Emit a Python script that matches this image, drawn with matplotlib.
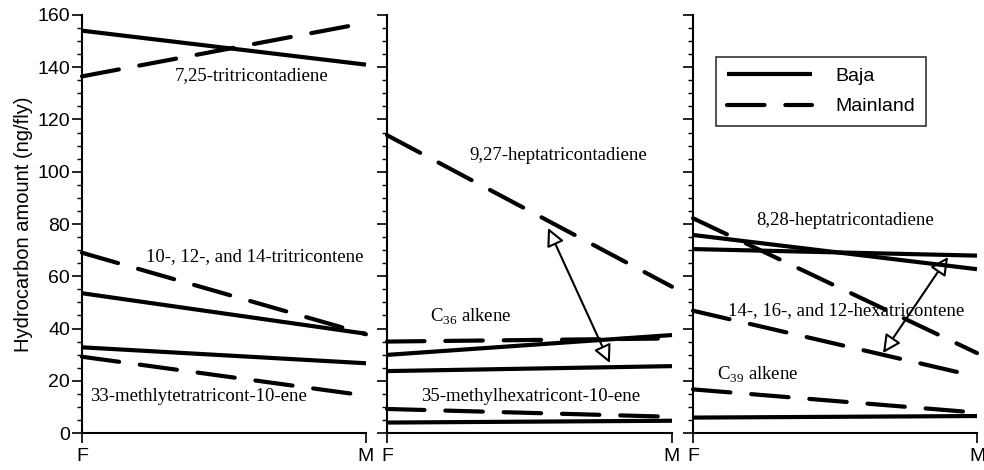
import matplotlib
matplotlib.use("Agg")
import matplotlib.pyplot as plt
from matplotlib.patches import FancyArrowPatch

# x positions: F = 0, M = 1
sexes = ["F", "M"]

# panel 1 (ng/fly, F -> M)
p1_baja = [[154, 141], [53.5, 38], [32.8, 26.7]]
p1_main = [[136.5, 157], [69, 37.8], [29.2, 14.3]]
p1_labels = ["7,25-tritricontadiene", "10-, 12-, and 14-tritricontene",
             "33-methlytetratricont-10-ene"]
p1_label_pos = [(0.327, 135.1), (0.225, 65.8), (0.028, 12.2)]

# panel 2
p2_baja = [[29.9, 37.5], [23.7, 25.6], [4.0, 4.7]]
p2_main = [[114, 56], [35, 36.2], [9.2, 6.2]]
p2_labels = ["9,27-heptatricontadiene", "C$_{36}$ alkene",
             "35-methylhexatricont-10-ene"]
p2_label_pos = [(0.288, 104.5), (0.151, 42.6), (0.118, 12.2)]
p2_arrow = [(0.565, 78.5), (0.782, 26.8)]

# panel 3
p3_baja = [[75.8, 62.7], [70.4, 67.9], [5.9, 6.5]]
p3_main = [[82.2, 30.6], [46.8, 21.6], [16.7, 7.8]]
p3_labels = ["8,28-heptatricontadiene", "14-, 16-, and 12-hexatricontene",
             "C$_{39}$ alkene"]
p3_label_pos = [(0.224, 79.6), (0.123, 45.2), (0.083, 20.3)]
p3_arrow = [(0.898, 67.4), (0.669, 30.6)]

panels = [
    (p1_baja, p1_main, p1_labels, p1_label_pos, None),
    (p2_baja, p2_main, p2_labels, p2_label_pos, p2_arrow),
    (p3_baja, p3_main, p3_labels, p3_label_pos, p3_arrow),
]

sans = ["Liberation Sans", "DejaVu Sans"]
serif = ["Liberation Serif", "DejaVu Serif"]
plt.rcParams["font.family"] = sans
plt.rcParams["mathtext.fontset"] = "custom"
plt.rcParams["mathtext.rm"] = "Liberation Serif"

fig = plt.figure(figsize=(9.84, 4.70), dpi=100)
lefts = [0.0833, 0.3933, 0.7043]
widths = [0.2886, 0.2896, 0.2886]
bottom, height = 0.0787, 0.8894
dash = (9, 5)

xs = [0, 1]
axes = []
for i, (baja, main, labels, lpos, arrow) in enumerate(panels):
    ax = fig.add_axes([lefts[i], bottom, widths[i], height])
    axes.append(ax)
    for b in baja:
        ax.plot(xs, b, color="black", lw=3, solid_capstyle="butt", clip_on=False)
    for m in main:
        ax.plot(xs, m, color="black", lw=3, dashes=dash,
                dash_capstyle="round", clip_on=False)
    for txt, (lx, ly) in zip(labels, lpos):
        ax.text(lx, ly, txt, fontsize=13.5, family=serif, ha="left", va="baseline")
    if arrow is not None:
        arr = FancyArrowPatch(arrow[0], arrow[1],
                              arrowstyle="<|-|>,head_length=0.9,head_width=0.45",
                              mutation_scale=12, lw=1.5, fc="white", ec="black",
                              shrinkA=0, shrinkB=0)
        ax.add_patch(arr)

    ax.set_xlim(0, 1)
    ax.set_ylim(0, 160)
    ax.set_xticks(xs)
    ax.set_xticklabels(sexes, fontsize=14)
    ax.set_yticks(range(0, 161, 20))
    ax.set_yticks(range(0, 161, 5), minor=True)
    ax.tick_params(axis="both", which="major", direction="out", length=7,
                   width=1.2, pad=1.5)
    ax.tick_params(axis="y", which="minor", direction="out", length=3.5, width=1.0)
    ax.tick_params(axis="x", which="major", pad=4)
    for s in ["top", "right"]:
        ax.spines[s].set_visible(False)
    for s in ["left", "bottom"]:
        ax.spines[s].set_linewidth(1.5)
    if i == 0:
        ax.set_yticklabels([str(v) for v in range(0, 161, 20)], fontsize=14)
        ax.set_ylabel("Hydrocarbon amount (ng/fly)", fontsize=14.5, labelpad=3)
    else:
        ax.set_yticklabels([])

# legend in third panel
ax3 = axes[2]
ax3.plot([], [], color="black", lw=3, solid_capstyle="butt", label="Baja")
ax3.plot([], [], color="black", lw=3, dashes=dash, dash_capstyle="round",
         label="Mainland")
leg = ax3.legend(loc="upper left", bbox_to_anchor=(0.081, 0.9), borderaxespad=0,
                 fontsize=14, frameon=True, fancybox=False, edgecolor="black",
                 handlelength=4.4, handletextpad=1.2, borderpad=0.55,
                 labelspacing=0.65)
leg.get_frame().set_linewidth(1.2)

fig.savefig("out.png", dpi=100)
